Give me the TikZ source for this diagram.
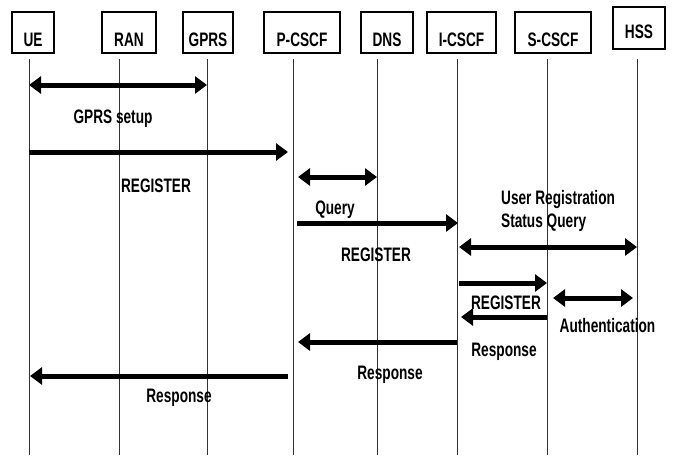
\documentclass[tikz,border=0pt]{standalone}
\usepackage{fontspec}
\setmainfont{Liberation Sans}[FakeStretch=0.7]
\usetikzlibrary{arrows.meta}
\newcommand{\lblfont}{\fontsize{19.5}{23}\selectfont\bfseries}
\begin{document}
\begin{tikzpicture}[x=1pt,y=-1pt,
  ent/.style={rectangle, draw=black, line width=1.3pt, inner sep=0pt, font=\lblfont,
    minimum height=41pt, text height=28pt, text depth=0pt},
  life/.style={line width=0.9pt, draw=black!80},
  msg/.style={line width=5pt, -{Triangle[length=12pt,width=17pt]}},
  dmsg/.style={line width=5pt, {Triangle[length=12pt,width=17pt]}-{Triangle[length=12pt,width=17pt]}},
  txt/.style={font=\lblfont, inner sep=0pt, anchor=base}]
\useasboundingbox (0,0) rectangle (676,455);
% entity boxes
\node[ent, minimum width=42pt] (ue) at (33,32.5) {UE};
\node[ent, minimum width=54pt] (ran) at (129,32.5) {RAN};
\node[ent, minimum width=50pt] (gprs) at (208,32.5) {GPRS};
\node[ent, minimum width=76pt] (pcscf) at (302,32.5) {P-CSCF};
\node[ent, minimum width=52pt] (dns) at (387,32.5) {DNS};
\node[ent, minimum width=69pt] (icscf) at (461.5,32.5) {I-CSCF};
\node[ent, minimum width=76pt] (scscf) at (553,32.5) {S-CSCF};
\node[ent, minimum width=52pt, minimum height=42pt, text height=20pt] (hss) at (639,28) {HSS};
% lifelines
\foreach \n/\x in {ue/29,ran/119,gprs/207,pcscf/293,dns/377,icscf/457,scscf/547,hss/637}{
  \coordinate (\n T) at (\x,59);
  \coordinate (\n B) at (\x,455);
  \draw[life] (\n T) -- (\n B);
}
% message end points
\coordinate (m1a) at (29,85);   \coordinate (m1b) at (207,85);
\coordinate (m2a) at (29,152);  \coordinate (m2b) at (288,152);
\coordinate (m3a) at (298,177); \coordinate (m3b) at (377,177);
\coordinate (m4a) at (297,223); \coordinate (m4b) at (458,223);
\coordinate (m5a) at (459,247); \coordinate (m5b) at (637,247);
\coordinate (m6a) at (459,283); \coordinate (m6b) at (547,283);
\coordinate (m7a) at (553,298); \coordinate (m7b) at (633,298);
\coordinate (m8a) at (547,317); \coordinate (m8b) at (461,317);
\coordinate (m9a) at (457,342); \coordinate (m9b) at (298,342);
\coordinate (m10a) at (288,376); \coordinate (m10b) at (30,376);
% messages
\draw[dmsg] (m1a) -- (m1b);
\draw[msg] (m2a) -- (m2b);
\draw[dmsg] (m3a) -- (m3b);
\draw[msg] (m4a) -- (m4b);
\draw[dmsg] (m5a) -- (m5b);
\draw[msg] (m6a) -- (m6b);
\draw[dmsg] (m7a) -- (m7b);
\draw[msg] (m8a) -- (m8b);
\draw[msg] (m9a) -- (m9b);
\draw[msg] (m10a) -- (m10b);
% labels
\node[txt] (l1) at (113,123) {GPRS setup};
\node[txt] (l2) at (156,192) {REGISTER};
\node[txt] (l3) at (335,214) {Query};
\node[txt] (l4) at (376,261) {REGISTER};
\node[txt, anchor=base west] (l5) at (501,204) {User Registration};
\node[txt, anchor=base west] (l5b) at (501,227) {Status Query};
\node[txt] (l6) at (506,309) {REGISTER};
\node[txt] (l7) at (607.5,332) {Authentication};
\node[txt] (l8) at (504,356) {Response};
\node[txt] (l9) at (390,379) {Response};
\node[txt] (l10) at (179,402) {Response};
\end{tikzpicture}
\end{document}
